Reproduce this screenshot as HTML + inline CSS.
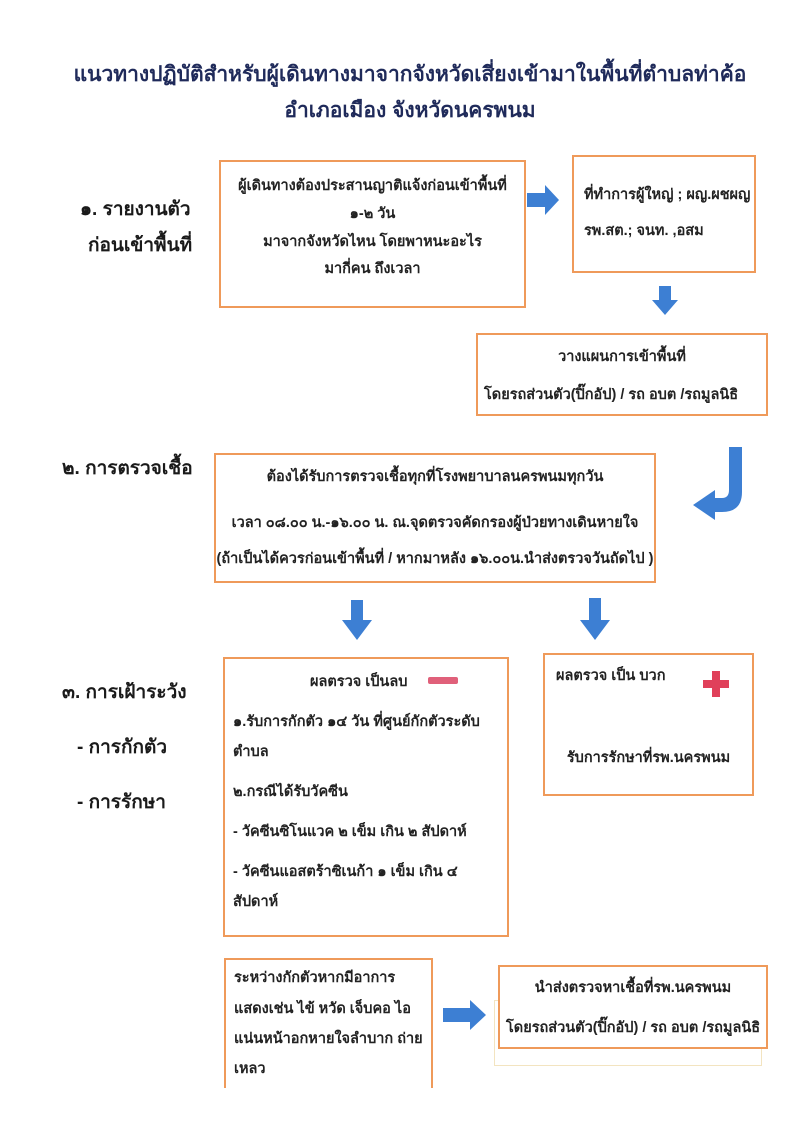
<!DOCTYPE html>
<html><head><meta charset="utf-8">
<style>
body{margin:0;width:800px;height:1123px;background:#fff;position:relative;overflow:hidden;font-family:"Liberation Sans","DejaVu Sans",sans-serif;color:#222;}
.t{position:absolute;white-space:nowrap;}
.title{font-size:21px;font-weight:bold;color:#1f2a5a;left:0;width:800px;text-align:center;}
.lab{font-size:19px;font-weight:bold;color:#1a1a1a;}
.box{position:absolute;border:2px solid #ef9a5a;box-sizing:border-box;background:#fff;}
.bx{font-size:14.5px;font-weight:bold;color:#222;}
</style></head><body>
<div class="t title" style="top:58px;left:10px">แนวทางปฏิบัติสำหรับผู้เดินทางมาจากจังหวัดเสี่ยงเข้ามาในพื้นที่ตำบลท่าค้อ</div>
<div class="t title" style="top:94px;left:10px">อำเภอเมือง จังหวัดนครพนม</div>

<div class="t lab" style="left:80px;top:194px">๑. รายงานตัว</div>
<div class="t lab" style="left:88px;top:230px">ก่อนเข้าพื้นที่</div>
<div class="t lab" style="left:62px;top:453px">๒. การตรวจเชื้อ</div>
<div class="t lab" style="left:62px;top:677px">๓. การเฝ้าระวัง</div>
<div class="t lab" style="left:77px;top:732px">- การกักตัว</div>
<div class="t lab" style="left:77px;top:787px">- การรักษา</div>

<div class="box" style="left:219px;top:160px;width:307px;height:148px"></div>
<div class="t bx" style="left:219px;width:307px;text-align:center;top:174px">ผู้เดินทางต้องประสานญาติแจ้งก่อนเข้าพื้นที่</div>
<div class="t bx" style="left:219px;width:307px;text-align:center;top:202px">๑-๒ วัน</div>
<div class="t bx" style="left:219px;width:307px;text-align:center;top:230px">มาจากจังหวัดไหน โดยพาหนะอะไร</div>
<div class="t bx" style="left:219px;width:307px;text-align:center;top:257px">มากี่คน ถึงเวลา</div>

<div class="box" style="left:572px;top:155px;width:184px;height:118px"></div>
<div class="t bx" style="left:584px;top:183px">ที่ทำการผู้ใหญ่ ; ผญ.ผชผญ</div>
<div class="t bx" style="left:584px;top:219px">รพ.สต.; จนท. ,อสม</div>

<div class="box" style="left:476px;top:333px;width:292px;height:83px"></div>
<div class="t bx" style="left:476px;width:292px;text-align:center;top:345px">วางแผนการเข้าพื้นที่</div>
<div class="t bx" style="left:484px;top:383px">โดยรถส่วนตัว(ปิ๊กอัป) / รถ อบต /รถมูลนิธิ</div>

<div class="box" style="left:214px;top:453px;width:442px;height:130px"></div>
<div class="t bx" style="left:214px;width:442px;text-align:center;top:465px">ต้องได้รับการตรวจเชื้อทุกที่โรงพยาบาลนครพนมทุกวัน</div>
<div class="t bx" style="left:214px;width:442px;text-align:center;top:511px">เวลา ๐๘.๐๐ น.-๑๖.๐๐ น. ณ.จุดตรวจคัดกรองผู้ป่วยทางเดินหายใจ</div>
<div class="t bx" style="left:214px;width:442px;text-align:center;top:547px">(ถ้าเป็นได้ควรก่อนเข้าพื้นที่ / หากมาหลัง ๑๖.๐๐น.นำส่งตรวจวันถัดไป )</div>

<div class="box" style="left:223px;top:657px;width:286px;height:280px"></div>
<div class="t bx" style="left:310px;top:670px">ผลตรวจ เป็นลบ</div>
<div style="position:absolute;left:428px;top:677px;width:30px;height:7px;background:#e0607a;border-radius:2px"></div>
<div class="t bx" style="left:233px;top:710px">๑.รับการกักตัว ๑๔ วัน ที่ศูนย์กักตัวระดับ</div>
<div class="t bx" style="left:233px;top:740px">ตำบล</div>
<div class="t bx" style="left:233px;top:780px">๒.กรณีได้รับวัคซีน</div>
<div class="t bx" style="left:233px;top:820px">- วัคซีนซิโนแวค ๒ เข็ม เกิน ๒ สัปดาห์</div>
<div class="t bx" style="left:233px;top:860px">- วัคซีนแอสตร้าซิเนก้า ๑ เข็ม เกิน ๔</div>
<div class="t bx" style="left:233px;top:890px">สัปดาห์</div>

<div class="box" style="left:543px;top:653px;width:211px;height:143px"></div>
<div class="t bx" style="left:556px;top:664px">ผลตรวจ เป็น บวก</div>
<div style="position:absolute;left:712px;top:671px;width:8px;height:26px;background:#e0405a"></div>
<div style="position:absolute;left:703px;top:680px;width:26px;height:8px;background:#e0405a"></div>
<div class="t bx" style="left:543px;width:211px;text-align:center;top:746px">รับการรักษาที่รพ.นครพนม</div>

<div class="box" style="left:224px;top:958px;width:209px;height:130px;border-bottom:none"></div>
<div class="t bx" style="left:234px;top:966px">ระหว่างกักตัวหากมีอาการ</div>
<div class="t bx" style="left:234px;top:997px">แสดงเช่น ไข้ หวัด เจ็บคอ ไอ</div>
<div class="t bx" style="left:234px;top:1027px">แน่นหน้าอกหายใจลำบาก ถ่าย</div>
<div class="t bx" style="left:234px;top:1057px">เหลว</div>

<div class="box" style="left:494px;top:1000px;width:268px;height:66px;border-color:#f3e4c0;border-width:1px"></div>
<div class="box" style="left:498px;top:965px;width:270px;height:84px"></div>
<div class="t bx" style="left:498px;width:270px;text-align:center;top:976px">นำส่งตรวจหาเชื้อที่รพ.นครพนม</div>
<div class="t bx" style="left:506px;top:1016px">โดยรถส่วนตัว(ปิ๊กอัป) / รถ อบต /รถมูลนิธิ</div>

<svg width="800" height="1123" style="position:absolute;left:0;top:0" xmlns="http://www.w3.org/2000/svg">
<g fill="#3d7fd3">
<polygon points="527,193 545,193 545,185 559,200 545,215 545,207 527,207"/>
<polygon points="659,286 671,286 671,300 678,300 665,315 652,300 659,300"/>
<polygon points="351,600 363,600 363,620 372,620 357,640 342,620 351,620"/>
<polygon points="589,598 601,598 601,620 610,620 595,640 580,620 589,620"/>
<polygon points="443,1008 470,1008 470,1000 486,1015 470,1030 470,1022 443,1022"/>
<path d="M729,447 L742,447 L742,492 Q742,512 722,512 L715,512 L715,520 L693,505 L715,490 L715,498 L722,498 Q729,498 729,490 Z"/>
</g>
</svg>
</body></html>
